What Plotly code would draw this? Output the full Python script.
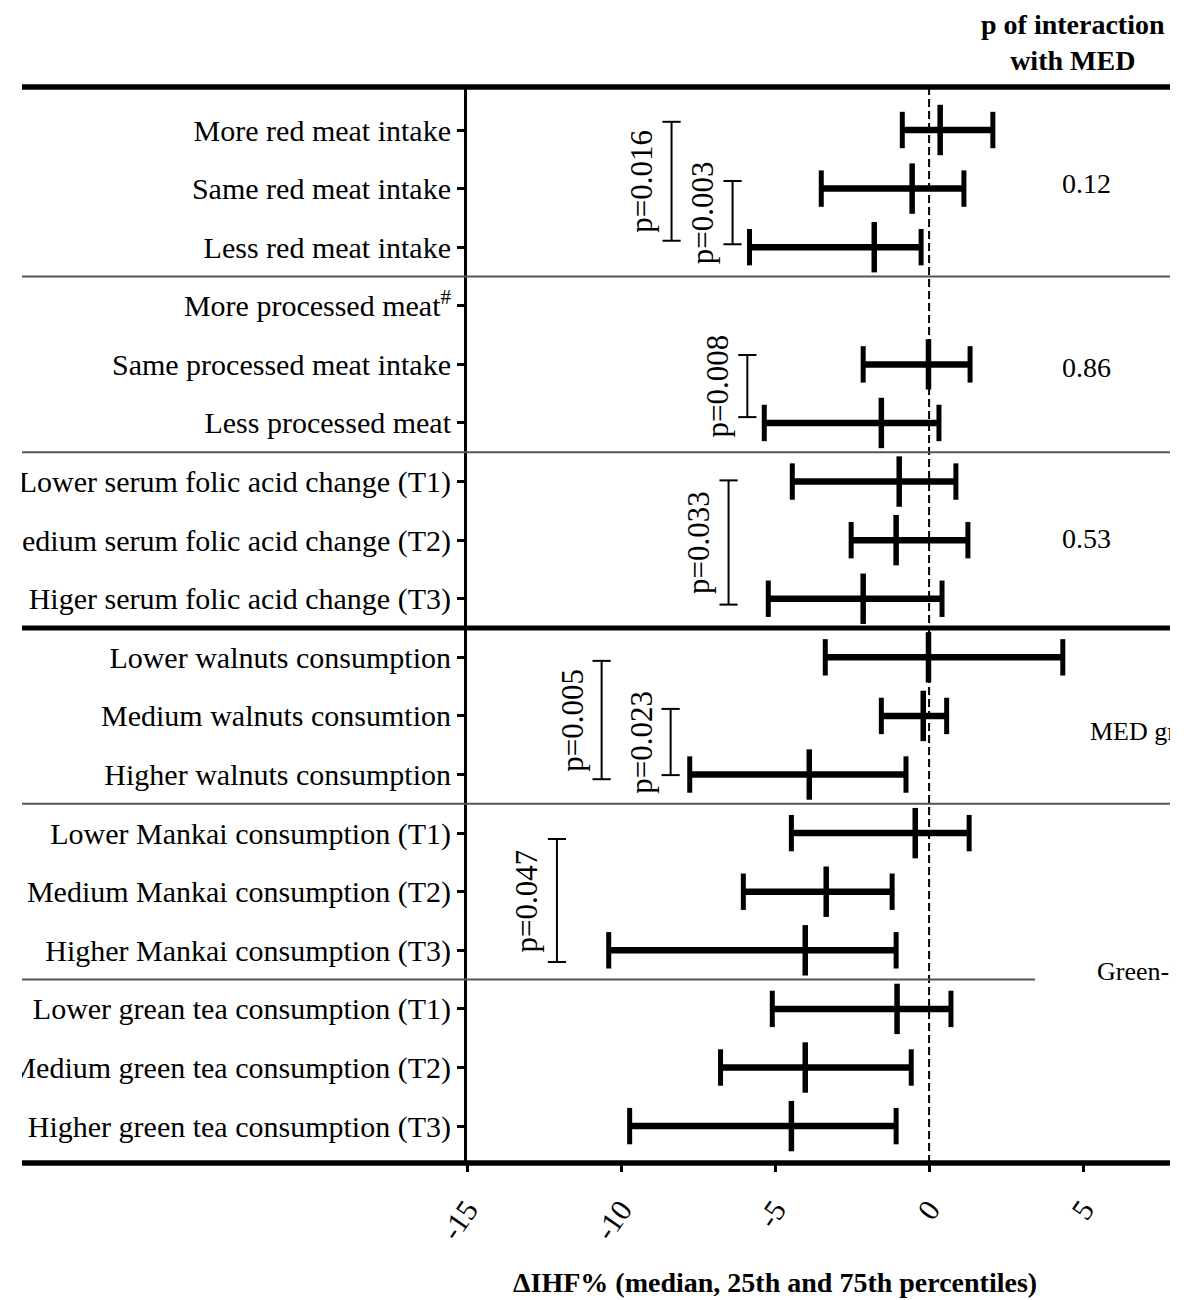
import plotly.graph_objects as go

# ---------------- data ----------------
labels = [
    "More red meat intake",
    "Same red meat intake",
    "Less red meat intake",
    "More processed meat<sup>#</sup>",
    "Same processed meat intake",
    "Less processed meat",
    "Lower serum folic acid change (T1)",
    "Medium serum folic acid change (T2)",
    "Higer serum folic acid change (T3)",
    "Lower walnuts consumption",
    "Medium walnuts consumtion",
    "Higher walnuts consumption",
    "Lower Mankai consumption (T1)",
    "Medium Mankai consumption (T2)",
    "Higher Mankai consumption (T3)",
    "Lower grean tea consumption (T1)",
    "Medium green tea consumption (T2)",
    "Higher green tea consumption (T3)",
]
q25 = [-0.87, -3.50, -5.83, None, -2.14, -5.35, -4.44, -2.53, -5.22,
       -3.37, -1.55, -7.77, -4.47, -6.03, -10.40, -5.09, -6.77, -9.72]
median = [0.36, -0.55, -1.78, None, -0.02, -1.55, -0.97, -1.07, -2.14,
          -0.02, -0.19, -3.89, -0.45, -3.34, -4.02, -1.04, -4.02, -4.47]
q75 = [2.07, 1.13, -0.26, None, 1.33, 0.32, 0.87, 1.26, 0.42,
       4.34, 0.57, -0.75, 1.30, -1.20, -1.07, 0.71, -0.58, -1.07]

# pairwise comparison brackets
br_text = ["p=0.016", "p=0.003", "p=0.008", "p=0.033", "p=0.005", "p=0.023", "p=0.047"]
br_x = [-8.36, -6.38, -5.90, -6.51, -10.63, -8.39, -12.08]
br_y0 = [0.86, 1.87, 4.84, 6.98, 10.06, 10.88, 13.10]
br_y1 = [2.89, 2.95, 5.90, 9.10, 12.08, 12.01, 15.20]

# p of interaction with MED
inter_p = ["0.12", "0.86", "0.53"]
inter_row = [1.92, 5.05, 7.97]
inter_x = 5.12

# group labels (cut at the right edge in the source)
group_text = ["MED group", "Green-MED group"]
group_row = [11.27, 15.37]
group_x = [5.15, 5.38]

# separators (between rows)
sep_thin = [3.5, 6.5, 12.5]
sep_thick = [9.5]
sep_short = [15.5]

xticks = [-15, -10, -5, 0, 5]
xticktext = ["-15", "-10", "-5", "0", "5"]

# ---------------- figure ----------------
rows = list(range(1, len(labels) + 1))
FONT = "Liberation Serif"
LEFT_PAPER = -445 / 703.0

fig = go.Figure()

# whisker lines
lx, ly = [], []
for r, a, b in zip(rows, q25, q75):
    if a is None:
        continue
    lx += [a, b, None]
    ly += [r, r, None]
fig.add_trace(go.Scatter(x=lx, y=ly, mode="lines",
                         line=dict(color="black", width=6.5),
                         hoverinfo="skip", showlegend=False))

# end caps
cx, cy = [], []
for r, a, b in zip(rows, q25, q75):
    if a is None:
        continue
    cx += [a, b]
    cy += [r, r]
fig.add_trace(go.Scatter(x=cx, y=cy, mode="markers",
                         marker=dict(symbol="line-ns", size=26,
                                     line=dict(color="black", width=5)),
                         hoverinfo="skip", showlegend=False))

# medians
mx = [m for m in median if m is not None]
my = [r for r, m in zip(rows, median) if m is not None]
fig.add_trace(go.Scatter(x=mx, y=my, mode="markers",
                         marker=dict(symbol="line-ns", size=36,
                                     line=dict(color="black", width=5.5)),
                         hoverinfo="skip", showlegend=False))

# brackets
bx, by = [], []
for x, a, b in zip(br_x, br_y0, br_y1):
    bx += [x, x, None]
    by += [a, b, None]
fig.add_trace(go.Scatter(x=bx, y=by, mode="lines",
                         line=dict(color="black", width=2),
                         hoverinfo="skip", showlegend=False))
fig.add_trace(go.Scatter(x=[x for x in br_x for _ in (0, 1)],
                         y=[v for pair in zip(br_y0, br_y1) for v in pair],
                         mode="markers",
                         marker=dict(symbol="line-ew", size=13,
                                     line=dict(color="black", width=2)),
                         hoverinfo="skip", showlegend=False))

for t, x, a, b in zip(br_text, br_x, br_y0, br_y1):
    fig.add_annotation(x=x, y=(a + b) / 2, xref="x", yref="y", text=t,
                       textangle=-90, showarrow=False, xshift=-30,
                       xanchor="center", yanchor="middle",
                       font=dict(family=FONT, size=31, color="black"))

for t, r in zip(inter_p, inter_row):
    fig.add_annotation(x=inter_x, y=r, xref="x", yref="y", text=t,
                       showarrow=False, xanchor="center", yanchor="middle",
                       font=dict(family=FONT, size=28, color="black"))

for t, r, x in zip(group_text, group_row, group_x):
    fig.add_annotation(x=x, y=r, xref="x", yref="y", text=t,
                       showarrow=False, xanchor="left", yanchor="middle",
                       font=dict(family=FONT, size=26, color="black"))

# header and axis title
fig.add_annotation(x=0.862, y=1.041, xref="paper", yref="paper",
                   text="<b>p of interaction<br>with MED</b>", showarrow=False,
                   xanchor="center", yanchor="middle", align="center",
                   font=dict(family=FONT, size=28, color="black"))
fig.add_annotation(x=0.438, y=-0.1115, xref="paper", yref="paper",
                   text="<b>\u0394IHF% (median, 25th and 75th percentiles)</b>",
                   showarrow=False, xanchor="center", yanchor="middle",
                   font=dict(family=FONT, size=28, color="black"))

# reference line at 0
fig.add_shape(type="line", xref="x", yref="paper", x0=0, x1=0, y0=0, y1=1,
              line=dict(color="black", width=2, dash="8px,4px"))

# separators
for s in sep_thin:
    fig.add_shape(type="line", xref="paper", yref="y", x0=LEFT_PAPER, x1=1,
                  y0=s, y1=s, line=dict(color="#555555", width=2))
for s in sep_short:
    fig.add_shape(type="line", xref="paper", yref="y", x0=LEFT_PAPER, x1=0.808,
                  y0=s, y1=s, line=dict(color="#555555", width=2))
for s in sep_thick:
    fig.add_shape(type="line", xref="paper", yref="y", x0=LEFT_PAPER, x1=1,
                  y0=s, y1=s, line=dict(color="black", width=5))
# top and bottom rules
for yy in (0, 1):
    fig.add_shape(type="line", xref="paper", yref="paper", x0=LEFT_PAPER, x1=1,
                  y0=yy, y1=yy, line=dict(color="black", width=5.5))

fig.update_layout(
    width=1148, height=1300,
    margin=dict(l=445, r=0, t=87, b=137),
    paper_bgcolor="white", plot_bgcolor="white",
    showlegend=False,
    font=dict(family=FONT, color="black"),
    xaxis=dict(range=[-15, 7.82], tickvals=xticks, ticktext=xticktext,
               ticks="outside", ticklen=8, tickwidth=3, tickcolor="black",
               showline=False, showgrid=False, zeroline=False,
               tickangle=-55, ticklabelstandoff=8,
               tickfont=dict(family=FONT, size=30, color="black"),
               automargin=False, fixedrange=True),
    yaxis=dict(range=[18.63, 0.266], tickvals=rows, ticktext=labels,
               ticks="outside", ticklen=7, tickwidth=3, tickcolor="black",
               showline=True, linewidth=3, linecolor="black",
               showgrid=False, zeroline=False, ticklabelstandoff=0,
               tickfont=dict(family=FONT, size=30, color="black"),
               automargin=False, fixedrange=True),
)

post = ("document.body.style.margin='0px';"
        "var gd=document.getElementById('{plot_id}');"
        "gd.style.marginLeft='22px';")
fig.write_html("out.html", post_script=post, config={"displayModeBar": False})
